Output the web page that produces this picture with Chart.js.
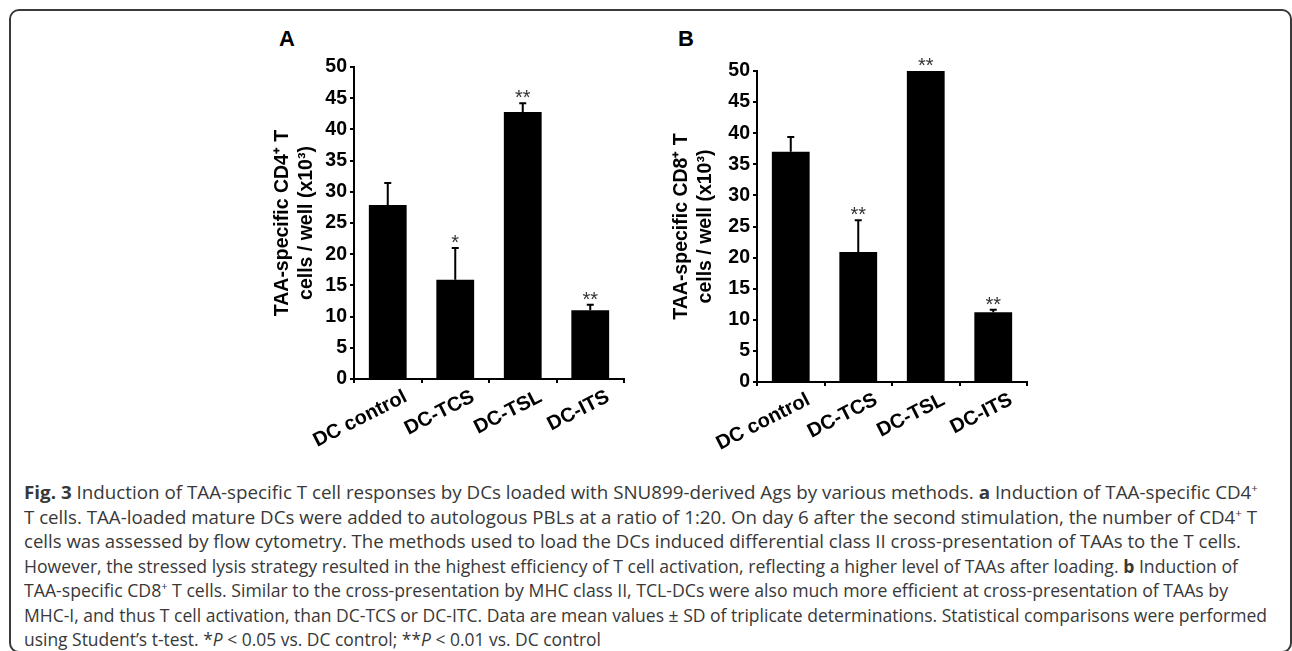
<!DOCTYPE html>
<html>
<head>
<meta charset="utf-8">
<script src="https://cdn.jsdelivr.net/npm/chart.js@4.4.1/dist/chart.umd.min.js"></script>
<style>
  body { margin: 0; background: #fff; width: 1292px; height: 651px; overflow: hidden; position: relative; font-family: 'Liberation Sans', Arial, sans-serif; }
  .frame { position: absolute; left: 9px; top: 9px; width: 1279px; height: 640px; border: 2px solid #3a3a3a; border-radius: 10px; }
  .panel { position: absolute; font-weight: bold; font-size: 22px; color: #000; }
  canvas { position: absolute; }
  .caption { position: absolute; left: 24px; top: 480px; font-family: 'Open Sans', sans-serif; font-size: 18.5px; line-height: 24.5px; color: #383838; }
  .caption .ln { display: block; width: max-content; white-space: nowrap; transform-origin: 0 50%; }
  .caption sup { font-size: 0.62em; line-height: 0; vertical-align: 0.6em; }
</style>
</head>
<body>
<div class="frame"></div>
<div class="panel" style="left:279px; top:26px;">A</div>
<div class="panel" style="left:678px; top:26px;">B</div>
<canvas id="chartA" width="440" height="420" style="left:200px; top:40px;"></canvas>
<canvas id="chartB" width="400" height="420" style="left:640px; top:40px;"></canvas>

<div class="caption" id="caption">
  <span class="ln"><b>Fig. 3</b> Induction of TAA-specific T cell responses by DCs loaded with SNU899-derived Ags by various methods. <b>a</b> Induction of TAA-specific CD4<sup>+</sup></span>
  <span class="ln">T cells. TAA-loaded mature DCs were added to autologous PBLs at a ratio of 1:20. On day 6 after the second stimulation, the number of CD4<sup>+</sup> T</span>
  <span class="ln">cells was assessed by flow cytometry. The methods used to load the DCs induced differential class II cross-presentation of TAAs to the T cells.</span>
  <span class="ln">However, the stressed lysis strategy resulted in the highest efficiency of T cell activation, reflecting a higher level of TAAs after loading. <b>b</b> Induction of</span>
  <span class="ln">TAA-specific CD8<sup>+</sup> T cells. Similar to the cross-presentation by MHC class II, TCL-DCs were also much more efficient at cross-presentation of TAAs by</span>
  <span class="ln">MHC-I, and thus T cell activation, than DC-TCS or DC-ITC. Data are mean values ± SD of triplicate determinations. Statistical comparisons were performed</span>
  <span class="ln">using Student’s t-test. *<i>P</i> &lt; 0.05 vs. DC control; **<i>P</i> &lt; 0.01 vs. DC control</span>
</div>

<script>
// values (x10^3 cells / well)
const categories = ['DC control', 'DC-TCS', 'DC-TSL', 'DC-ITS'];
const cd4Means = [27.9, 15.9, 42.8, 11.0];
const cd4Sd = [3.5, 5.1, 1.4, 0.9];
const cd4Sig = ['', '*', '**', '**'];
const cd8Means = [37.0, 20.9, 50.0, 11.2];
const cd8Sd = [2.4, 5.1, 0, 0.4];
const cd8Sig = ['', '**', '**', '**'];
const yMin = 0;
const yMax = 50;
const yStep = 5;

// where each caption line ends in the figure (page x)
const captionEnds = [1258, 1257, 1241, 1238, 1228, 1267, 601];
document.querySelectorAll('.caption .ln').forEach((el, i) => {
  const w = el.getBoundingClientRect().width;
  el.style.transform = 'scaleX(' + ((captionEnds[i] - 24) / w) + ')';
});

const FONT = "'Liberation Sans', Arial, sans-serif";

// upper error bar + significance stars
const errorBars = {
  id: 'errorBars',
  afterDraw(chart, args, opts) {
    const ctx = chart.ctx;
    const y = chart.scales.y;
    const meta = chart.getDatasetMeta(0);
    const means = chart.data.datasets[0].data;
    ctx.save();
    ctx.strokeStyle = '#000';
    ctx.lineWidth = 2;
    meta.data.forEach((bar, i) => {
      const base = y.getPixelForValue(means[i]);
      const top = y.getPixelForValue(means[i] + opts.sd[i]);
      if (opts.sd[i] > 0) {
        ctx.beginPath();
        ctx.moveTo(bar.x, base);
        ctx.lineTo(bar.x, top);
        ctx.moveTo(bar.x - 3.5, top);
        ctx.lineTo(bar.x + 3.5, top);
        ctx.stroke();
      }
      if (opts.sig[i]) {
        ctx.fillStyle = '#333';
        ctx.font = '20px ' + FONT;
        ctx.textAlign = 'center';
        ctx.textBaseline = 'alphabetic';
        ctx.fillText(opts.sig[i], bar.x, top + 1);
      }
    });
    ctx.restore();
  }
};

function makeChart(id, means, sd, sig, title, pad, yW, xH) {
  return new Chart(document.getElementById(id), {
    type: 'bar',
    data: {
      labels: categories,
      datasets: [{
        data: means,
        backgroundColor: '#000',
        borderWidth: 0,
        barPercentage: 0.56,
        categoryPercentage: 1,
      }],
    },
    options: {
      responsive: false,
      animation: false,
      layout: { padding: pad },
      plugins: {
        legend: { display: false },
        tooltip: { enabled: false },
        errorBars: { sd: sd, sig: sig },
      },
      scales: {
        x: {
          grid: { offset: true, drawOnChartArea: false, drawTicks: true, tickLength: 4, color: '#000', lineWidth: 2 },
          border: { color: '#000', width: 2 },
          ticks: {
            color: '#000',
            font: { family: FONT, size: 20, weight: 'bold' },
            minRotation: 27,
            maxRotation: 27,
            padding: 2,
            labelOffset: 18,
            autoSkip: false,
          },
          afterFit: (s) => { s.height = xH; },
        },
        y: {
          min: yMin,
          max: yMax,
          ticks: { stepSize: yStep, color: '#000', font: { family: FONT, size: 19.5, weight: 'bold' }, padding: 3 },
          grid: { drawOnChartArea: false, tickLength: 4, color: '#000', lineWidth: 2 },
          border: { color: '#000', width: 2 },
          title: {
            display: true,
            text: title,
            color: '#000',
            padding: 0,
            font: { family: FONT, size: 19.5, weight: 'bold', lineHeight: 1.22 },
          },
          afterFit: (s) => { s.width = yW; },
        },
      },
    },
    plugins: [errorBars],
  });
}

makeChart('chartA', cd4Means, cd4Sd, cd4Sig,
  ['TAA-specific CD4\u207A T', 'cells / well (x10\u00B3)'],
  { left: 71, top: 27, right: 16, bottom: 0 }, 83, 81);

makeChart('chartB', cd8Means, cd8Sd, cd8Sig,
  ['TAA-specific CD8\u207A T', 'cells / well (x10\u00B3)'],
  { left: 30, top: 31, right: 13, bottom: 0 }, 87, 78);
</script>
</body>
</html>
